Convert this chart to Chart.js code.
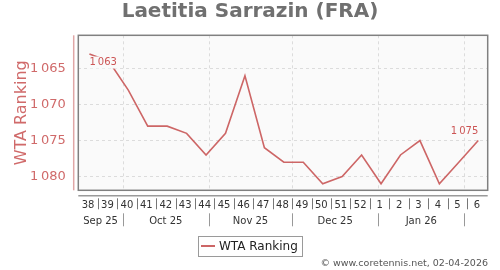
<!DOCTYPE html>
<html>
<head>
<meta charset="utf-8">
<script src="https://cdn.jsdelivr.net/npm/chart.js@4.4.1/dist/chart.umd.min.js"></script>
<style>
  html, body { margin: 0; padding: 0; background: #fff; }
  #caja { width: 500px; height: 270px; }
</style>
</head>
<body>
<div id="caja"><canvas id="grafica" width="500" height="270"></canvas></div>
<script>
const semanas = ["38", "39", "40", "41", "42", "43", "44", "45", "46", "47", "48", "49", "50", "51", "52", "1", "2", "3", "4", "5", "6"]
const lunes = ["2025-09-15", "2025-09-22", "2025-09-29", "2025-10-06", "2025-10-13", "2025-10-20", "2025-10-27",
    "2025-11-03", "2025-11-10", "2025-11-17", "2025-11-24", "2025-12-01", "2025-12-08", "2025-12-15", "2025-12-22",
    "2025-12-29", "2026-01-05", "2026-01-12", "2026-01-19", "2026-01-26", "2026-02-02"]
const ranking = [1063, 1064, 1068, 1073, 1073, 1074, 1077, 1074, 1066, 1076, 1078, 1078, 1081, 1080, 1077, 1081, 1077, 1075, 1081, 1078, 1075]
const inicioMes = ["2025-10-01", "2025-11-01", "2025-12-01", "2026-01-01", "2026-02-01"]
const meses = ["Sep 25", "Oct 25", "Nov 25", "Dec 25", "Jan 26"]
const ticksY = [1065, 1070, 1075, 1080]

const fuente = "'DejaVu Sans', sans-serif"
const rojo = "#cd6666"
const rojoTexto = "#d06a6a"
const finEje = 147.4

function dias(fecha) {
    return (Date.parse(fecha) - Date.parse(lunes[0])) / 86400000
}

function miles(v) {
    return Math.floor(v / 1000) + "\u2009" + String(v % 1000).padStart(3, "0")
}

const puntos = ranking.map((r, i) => ({ x: dias(lunes[i]) + 4, y: r }))

// fondo, marco, ejes extra, etiquetas, leyenda y pie
const marco = {
    id: "marco",
    beforeDraw(chart) {
        const { ctx, chartArea: a } = chart
        ctx.save()
        ctx.fillStyle = "#fafafa"
        ctx.fillRect(a.left, a.top, a.right - a.left, a.bottom - a.top)
        ctx.restore()
    },
    beforeDatasetsDraw(chart) {
        const { ctx, chartArea: a, scales } = chart
        ctx.save()
        ctx.strokeStyle = "#dcdcdc"
        ctx.lineWidth = 1
        ctx.setLineDash([3, 3])
        inicioMes.forEach(m => {
            const x = Math.round(scales.x.getPixelForValue(dias(m))) + 0.5
            ctx.beginPath()
            ctx.moveTo(x, a.top)
            ctx.lineTo(x, a.bottom)
            ctx.stroke()
        })
        ctx.setLineDash([])
        ctx.strokeStyle = "#808080"
        ctx.lineWidth = 1.5
        ctx.strokeRect(a.left, a.top, a.right - a.left, a.bottom - a.top)
        ctx.restore()
    },
    afterDatasetsDraw(chart) {
        const { ctx, scales } = chart
        const x = scales.x, y = scales.y
        ctx.save()
        ctx.font = "10px " + fuente
        ctx.textBaseline = "middle"
        const etiquetas = [
            { i: 0, align: "left", dy: 8.5 },
            { i: ranking.length - 1, align: "right", dy: -9 }
        ]
        etiquetas.forEach(e => {
            const px = x.getPixelForValue(puntos[e.i].x)
            const py = y.getPixelForValue(puntos[e.i].y) + e.dy
            const texto = miles(ranking[e.i])
            const w = ctx.measureText(texto).width
            const x0 = e.align === "left" ? px : px - w
            ctx.fillStyle = "#fafafa"
            ctx.fillRect(x0 - 1, py - 6, w + 2, 12)
            ctx.fillStyle = "#cc5555"
            ctx.textAlign = e.align
            ctx.fillText(texto, px, py)
        })
        ctx.restore()
    },
    afterDraw(chart) {
        const { ctx, chartArea: a, scales } = chart
        const x = scales.x
        ctx.save()

        // eje y rojo
        ctx.strokeStyle = "#e0a6a6"
        ctx.lineWidth = 1.5
        ctx.beginPath()
        ctx.moveTo(a.left - 4.6, a.top)
        ctx.lineTo(a.left - 4.6, a.bottom)
        ctx.stroke()

        // eje x gris
        ctx.strokeStyle = "#9a9a9a"
        ctx.lineWidth = 1.5
        ctx.beginPath()
        ctx.moveTo(a.left, a.bottom + 5.4)
        ctx.lineTo(a.right, a.bottom + 5.4)
        ctx.stroke()

        // separadores de semanas
        ctx.strokeStyle = "#777"
        ctx.lineWidth = 1
        for (let i = 1; i < lunes.length; i++) {
            const px = Math.round(x.getPixelForValue(dias(lunes[i]))) + 0.5
            ctx.beginPath()
            ctx.moveTo(px, a.bottom + 8)
            ctx.lineTo(px, a.bottom + 19)
            ctx.stroke()
        }

        // separadores y nombres de meses
        ctx.strokeStyle = "#999"
        const bordes = [0].concat(inicioMes.map(dias))
        inicioMes.forEach(m => {
            const px = Math.round(x.getPixelForValue(dias(m))) + 0.5
            ctx.beginPath()
            ctx.moveTo(px, a.bottom + 23)
            ctx.lineTo(px, a.bottom + 36)
            ctx.stroke()
        })
        ctx.fillStyle = "#333"
        ctx.font = "10px " + fuente
        ctx.textAlign = "center"
        ctx.textBaseline = "middle"
        meses.forEach((m, i) => {
            const medio = (bordes[i] + bordes[i + 1]) / 2
            ctx.fillText(m, x.getPixelForValue(medio), a.bottom + 31.5)
        })

        // leyenda
        ctx.strokeStyle = "#9a9a9a"
        ctx.lineWidth = 1
        ctx.strokeRect(198.5, 236.5, 104, 20)
        ctx.strokeStyle = rojo
        ctx.lineWidth = 2
        ctx.beginPath()
        ctx.moveTo(201, 246)
        ctx.lineTo(215, 246)
        ctx.stroke()
        ctx.fillStyle = "#222"
        ctx.font = "12px " + fuente
        ctx.textAlign = "left"
        ctx.fillText(chart.data.datasets[0].label, 219, 246.5)

        // pie
        ctx.fillStyle = "#555"
        ctx.font = "9.5px " + fuente
        ctx.textAlign = "right"
        ctx.fillText("\u00a9 www.coretennis.net, 02-04-2026", 488, 263.5)

        ctx.restore()
    }
}

const ctx = document.getElementById("grafica").getContext("2d")

const chart = new Chart(ctx, {
    type: "line",
    data: {
        datasets: [{
            label: "WTA Ranking",
            data: puntos,
            borderColor: rojo,
            borderWidth: 1.6,
            pointRadius: 0,
            tension: 0,
            fill: false
        }]
    },
    options: {
        responsive: false,
        animation: false,
        layout: { padding: { left: 12.3, right: 12.3, top: 0, bottom: 0 } },
        plugins: {
            legend: { display: false },
            tooltip: { enabled: false },
            title: {
                display: true,
                text: "Laetitia Sarrazin (FRA)",
                color: "#707070",
                font: { family: fuente, size: 20, weight: "bold", lineHeight: 1.2 },
                padding: { top: 0, bottom: 11.3 }
            }
        },
        scales: {
            x: {
                type: "linear",
                min: 0,
                max: finEje,
                afterBuildTicks: s => { s.ticks = lunes.map(l => ({ value: dias(l) + 3.5 })) },
                afterFit: s => { s.height = 79.7 },
                grid: { display: false },
                border: { display: false },
                ticks: {
                    autoSkip: false,
                    maxRotation: 0,
                    padding: 1,
                    color: "#333",
                    font: { family: fuente, size: 10 },
                    callback: (v, i) => semanas[i]
                }
            },
            y: {
                reverse: true,
                min: 1060.4,
                max: 1081.9,
                afterBuildTicks: s => { s.ticks = ticksY.map(v => ({ value: v })) },
                afterFit: s => { s.width = 66 },
                grid: { color: "#dcdcdc", lineWidth: 1, drawTicks: false },
                border: { display: false, dash: [3, 3] },
                ticks: {
                    padding: 12.6,
                    color: rojoTexto,
                    font: { family: fuente, size: 13 },
                    callback: v => miles(v)
                },
                title: {
                    display: true,
                    text: "WTA Ranking",
                    color: rojoTexto,
                    font: { family: fuente, size: 16, lineHeight: 1.2 },
                    padding: { top: 0, bottom: 0 }
                }
            }
        }
    },
    plugins: [marco]
})
</script>
</body>
</html>
